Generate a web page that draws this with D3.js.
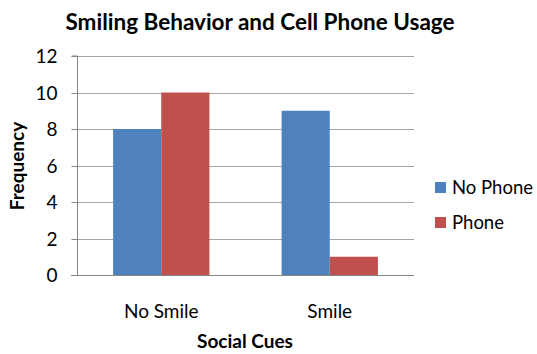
<!DOCTYPE html>
<html>
<head>
<meta charset="utf-8">
<script src="https://cdn.jsdelivr.net/npm/d3@7"></script>
<style>
  html, body { margin: 0; padding: 0; background: #fff; }
  svg { display: block; font-family: Lato, "Open Sans", sans-serif; }
</style>
</head>
<body>
<script>
const categories = ["No Smile", "Smile"];
const seriesNames = ["No Phone", "Phone"];
const noPhone = [8, 9];
const phone = [10, 1];
const yTicks = [0, 2, 4, 6, 8, 10, 12];
const colors = ["#4F81BD", "#C0504D"];
const title = "Smiling Behavior and Cell Phone Usage";
const xTitle = "Social Cues";
const yTitle = "Frequency";

const W = 537, H = 354;
const plot = { left: 77, right: 414, top: 56, bottom: 275 };

const svg = d3.select("body").append("svg").attr("width", W).attr("height", H);

const x = d3.scaleBand().domain(categories).range([plot.left, plot.right]).paddingInner(0).paddingOuter(0);
// two bars per category, gap width 150% of a bar => band = 3.5 bars
const barW = x.bandwidth() / 3.5;
const sx = d3.scaleBand().domain(seriesNames).range([barW * 0.75, barW * 2.75]);
const y = d3.scaleLinear().domain([0, 12]).range([plot.bottom, plot.top]);

// gridlines
svg.append("g").selectAll("line").data(yTicks.filter(d => d > 0)).join("line")
  .attr("x1", plot.left).attr("x2", plot.right)
  .attr("y1", d => Math.round(y(d)) + 0.5).attr("y2", d => Math.round(y(d)) + 0.5)
  .attr("stroke", "#a6a6a6").attr("stroke-width", 1);

// bars
const data = [];
categories.forEach((c, i) => {
  data.push({ c, s: seriesNames[0], v: noPhone[i], col: colors[0] });
  data.push({ c, s: seriesNames[1], v: phone[i], col: colors[1] });
});
svg.append("g").selectAll("rect").data(data).join("rect")
  .attr("x", d => x(d.c) + sx(d.s))
  .attr("y", d => y(d.v))
  .attr("width", sx.bandwidth())
  .attr("height", d => y(0) - y(d.v))
  .attr("fill", d => d.col);

// y axis
const yAxis = d3.axisLeft(y).tickValues(yTicks).tickSize(6).tickPadding(14);
const gy = svg.append("g").attr("transform", `translate(${plot.left + 0.5},0)`).call(yAxis);
gy.select(".domain").attr("stroke", "#868686").attr("d", `M-6,${plot.top}H0V${plot.bottom + 0.5}`);
gy.selectAll(".tick line").attr("stroke", "#868686");
gy.selectAll(".tick").attr("transform", d => `translate(0,${Math.round(y(d)) + 0.5})`);
gy.selectAll("text").attr("font-size", 19).attr("fill", "#000").attr("font-family", "Lato, sans-serif").attr("dy", "0.36em");

// x axis
const xAxis = d3.axisBottom(x).tickSize(0).tickPadding(29);
const gx = svg.append("g").attr("transform", `translate(0,${plot.bottom + 0.5})`).call(xAxis);
gx.select(".domain").attr("stroke", "#868686").attr("d", `M${plot.left - 6},0H${plot.right}`);
gx.selectAll("text").attr("font-size", 19).attr("fill", "#000").attr("font-family", "Lato, sans-serif");

// title
svg.append("text").attr("x", 260).attr("y", 30).attr("text-anchor", "middle")
  .attr("font-size", 22.5).attr("font-weight", "bold").text(title);

// axis titles
svg.append("text").attr("x", 245).attr("y", 348).attr("text-anchor", "middle")
  .attr("font-size", 19).attr("font-weight", "bold").text(xTitle);
svg.append("text").attr("transform", `translate(24,166) rotate(-90)`).attr("text-anchor", "middle")
  .attr("font-size", 19).attr("font-weight", "bold").text(yTitle);

// legend
const leg = svg.append("g");
seriesNames.forEach((s, i) => {
  const yy = 188 + i * 35;
  leg.append("rect").attr("x", 435).attr("y", yy - 6).attr("width", 11).attr("height", 11).attr("fill", colors[i]);
  leg.append("text").attr("x", 452).attr("y", yy).attr("dy", "0.35em").attr("font-size", 18.5).text(s);
});
</script>
</body>
</html>
